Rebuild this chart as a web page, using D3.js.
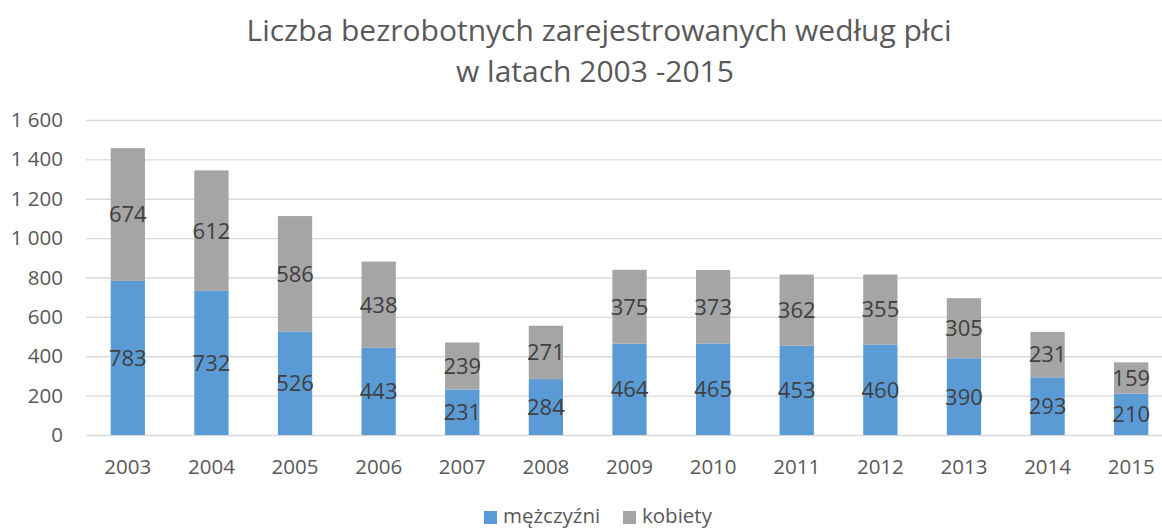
<!DOCTYPE html>
<html>
<head>
<meta charset="utf-8">
<script src="https://cdn.jsdelivr.net/npm/d3@7"></script>
<style>
  body { margin: 0; background: #fff; }
  text { font-family: "Open Sans", "Noto Sans", sans-serif; }
</style>
</head>
<body>
<div id="plot"></div>
<script>
// chart data
const years = ["2003","2004","2005","2006","2007","2008","2009","2010","2011","2012","2013","2014","2015"];
const men = [783, 732, 526, 443, 231, 284, 464, 465, 453, 460, 390, 293, 210];
const women = [674, 612, 586, 438, 239, 271, 375, 373, 362, 355, 305, 231, 159];
const yTicks = [0, 200, 400, 600, 800, 1000, 1200, 1400, 1600];
const seriesNames = ["mężczyźni", "kobiety"];
const colors = ["#5b9bd5", "#a5a5a5"];

const width = 1162, height = 528;
const plotLeft = 86, plotRight = 1173, plotTop = 120, plotBottom = 435;

const svg = d3.select("#plot").append("svg")
    .attr("width", width).attr("height", height);

const x = d3.scaleBand().domain(years).range([plotLeft, plotRight]).paddingInner(0.59).paddingOuter(0.295);
const y = d3.scaleLinear().domain([0, 1600]).range([plotBottom, plotTop]);

const fmt = d => d3.format(",")(d).replace(",", " ");

// gridlines
svg.append("g")
    .attr("transform", `translate(${plotLeft},0)`)
    .call(d3.axisLeft(y).tickValues(yTicks).tickSize(-(plotRight - plotLeft)).tickFormat(fmt))
    .call(g => g.select(".domain").remove())
    .call(g => g.selectAll("line").attr("stroke", "#d9d9d9").attr("stroke-width", 1.3))
    .call(g => g.selectAll("text").attr("x", -23).attr("fill", "#595959").style("font-size", "20.5px"));

// x axis labels
svg.append("g")
    .attr("transform", `translate(0,${plotBottom})`)
    .call(d3.axisBottom(x).tickSize(0).tickPadding(24))
    .call(g => g.select(".domain").remove())
    .call(g => g.selectAll("text").attr("fill", "#595959").style("font-size", "20.5px"));

const rows = years.map((yr, i) => ({ year: yr, men: men[i], women: women[i] }));
const stack = d3.stack().keys(["men", "women"])(rows);

const layers = svg.append("g").selectAll("g")
    .data(stack).enter().append("g")
    .attr("fill", (d, i) => colors[i]);

layers.selectAll("rect")
    .data(d => d).enter().append("rect")
    .attr("x", d => x(d.data.year))
    .attr("width", x.bandwidth())
    .attr("y", d => y(d[1]))
    .attr("height", d => y(d[0]) - y(d[1]));

layers.selectAll("text")
    .data(d => d).enter().append("text")
    .attr("x", d => x(d.data.year) + x.bandwidth() / 2)
    .attr("y", d => (y(d[0]) + y(d[1])) / 2)
    .attr("dy", "0.36em")
    .attr("text-anchor", "middle")
    .attr("fill", "#404040")
    .style("font-size", "22px")
    .text(d => d[1] - d[0]);

// title
const title = svg.append("text")
    .attr("text-anchor", "middle")
    .attr("fill", "#595959")
    .style("font-size", "30px");
title.append("tspan").attr("x", 599).attr("y", 41).text("Liczba bezrobotnych zarejestrowanych według płci");
title.append("tspan").attr("x", 595).attr("y", 82).text("w latach 2003 -2015");

// legend
const legend = svg.append("g").attr("transform", "translate(484,523)");
const items = legend.selectAll("g").data(seriesNames).enter().append("g")
    .attr("transform", (d, i) => `translate(${i * 139},0)`);
items.append("rect").attr("y", -12).attr("width", 13).attr("height", 13)
    .attr("fill", (d, i) => colors[i]);
items.append("text").attr("x", 19).attr("y", 0)
    .attr("fill", "#595959").style("font-size", "20.5px")
    .text(d => d);
</script>
</body>
</html>
